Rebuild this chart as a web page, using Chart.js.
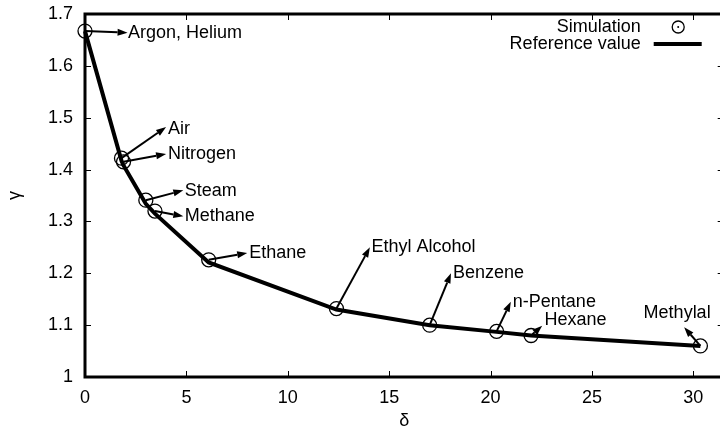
<!DOCTYPE html>
<html>
<head>
<meta charset="utf-8">
<script src="https://cdn.jsdelivr.net/npm/chart.js@4.4.1/dist/chart.umd.min.js"></script>
<style>
  html, body { margin: 0; padding: 0; overflow: hidden; background: #fff; }
  #wrap { width: 732px; height: 435px; }
</style>
</head>
<body>
<div id="wrap"><canvas id="gammaChart" width="732" height="435"></canvas></div>
<script>

const gasNames    = ['Argon, Helium', 'Air', 'Nitrogen', 'Steam', 'Methane', 'Ethane', 'Ethyl Alcohol', 'Benzene', 'n-Pentane', 'Hexane', 'Methylal'];
const deltaValues = [0, 1.8, 1.9, 3.0, 3.45, 6.1, 12.4, 17.0, 20.3, 22.0, 30.35];
const simGamma    = [1.667, 1.422, 1.415, 1.341, 1.32, 1.226, 1.132, 1.1, 1.088, 1.08, 1.06];
const refGamma    = [1.667, 1.417, 1.408, 1.334, 1.315, 1.221, 1.13, 1.1, 1.087, 1.08, 1.06];

// where each arrow ends and where its label sits (data coords)
const arrowTipX = [2.1, 4.0, 4.0, 4.85, 4.85, 8.0, 14.05, 18.05, 21.0, 22.55, 29.55];
const arrowTipY = [1.664, 1.482, 1.43, 1.36, 1.31, 1.239, 1.25, 1.2, 1.145, 1.099, 1.096];
const labelX    = [2.12, 4.09, 4.09, 4.92, 4.92, 8.1, 14.13, 18.15, 21.1, 22.66, 27.55];
const labelY    = [1.663, 1.478, 1.43, 1.358, 1.31, 1.2395, 1.251, 1.2, 1.144, 1.109, 1.123];

const xTickValues = [0, 5, 10, 15, 20, 25, 30];
const xTickLabels = ['0', '5', '10', '15', '20', '25', '30'];
const yTickValues = [1, 1.1, 1.2, 1.3, 1.4, 1.5, 1.6, 1.7];
const yTickLabels = ['1', '1.1', '1.2', '1.3', '1.4', '1.5', '1.6', '1.7'];

const fontFamily = "'Liberation Sans', Arial, Helvetica, sans-serif";

function drawArrow( ctx, x1, y1, x2, y2 ) {
    const ang = Math.atan2( y2 - y1, x2 - x1 );
    const headLen = 10, headHalf = 3.5;
    const bx = x2 - headLen * Math.cos( ang );
    const by = y2 - headLen * Math.sin( ang );

    ctx.beginPath();
    ctx.moveTo( x1, y1 );
    ctx.lineTo( bx, by );
    ctx.stroke();

    ctx.beginPath();
    ctx.moveTo( x2, y2 );
    ctx.lineTo( bx + headHalf * Math.sin( ang ), by - headHalf * Math.cos( ang ) );
    ctx.lineTo( bx - headHalf * Math.sin( ang ), by + headHalf * Math.cos( ang ) );
    ctx.closePath();
    ctx.fill();
}

const gnuplotLook = {
    id: 'gnuplotLook',

    afterDatasetsDraw( chart ) {
        const ctx = chart.ctx;
        const xs = chart.scales.x, ys = chart.scales.y;

        ctx.save();
        ctx.strokeStyle = '#000';
        ctx.fillStyle = '#000';
        ctx.lineWidth = 2;

        for ( let i = 0; i < gasNames.length; i++ ) {
            drawArrow( ctx,
                xs.getPixelForValue( deltaValues[i] ), ys.getPixelForValue( simGamma[i] ),
                xs.getPixelForValue( arrowTipX[i] ), ys.getPixelForValue( arrowTipY[i] ) );
        }

        ctx.font = '18px ' + fontFamily;
        ctx.textAlign = 'left';
        ctx.textBaseline = 'middle';
        for ( let i = 0; i < gasNames.length; i++ ) {
            ctx.fillText( gasNames[i], xs.getPixelForValue( labelX[i] ), ys.getPixelForValue( labelY[i] ) );
        }
        ctx.restore();
    },

    afterDraw( chart ) {
        const ctx = chart.ctx;
        const a = chart.chartArea;
        const xs = chart.scales.x, ys = chart.scales.y;
        const tick = 6;

        ctx.save();
        ctx.strokeStyle = '#000';

        // inward ticks on all four sides
        ctx.lineWidth = 1;
        ctx.beginPath();
        xTickValues.forEach( v => {
            const px = Math.round( xs.getPixelForValue( v ) ) + 0.5;
            ctx.moveTo( px, a.bottom ); ctx.lineTo( px, a.bottom - tick );
            ctx.moveTo( px, a.top );    ctx.lineTo( px, a.top + tick );
        });
        yTickValues.forEach( v => {
            const py = Math.round( ys.getPixelForValue( v ) ) + 0.5;
            ctx.moveTo( a.left, py );  ctx.lineTo( a.left + tick, py );
            ctx.moveTo( a.right, py ); ctx.lineTo( a.right - tick, py );
        });
        ctx.stroke();

        // frame
        ctx.lineWidth = 3;
        ctx.strokeRect( a.left, a.top, a.right - a.left, a.bottom - a.top );

        // key, top right
        const sim = chart.data.datasets[1], ref = chart.data.datasets[0];
        const textRight = a.right - 83;
        ctx.font = '18px ' + fontFamily;
        ctx.fillStyle = '#000';
        ctx.textAlign = 'right';
        ctx.textBaseline = 'middle';
        ctx.fillText( sim.label, textRight, a.top + 13 );
        ctx.fillText( ref.label, textRight, a.top + 30 );

        ctx.lineWidth = 1.3;
        ctx.beginPath();
        ctx.arc( a.right - 45.5, a.top + 13, 6, 0, Math.PI * 2 );
        ctx.stroke();
        ctx.beginPath();
        ctx.arc( a.right - 45.5, a.top + 13, 1, 0, Math.PI * 2 );
        ctx.fill();

        ctx.lineWidth = 4;
        ctx.beginPath();
        ctx.moveTo( a.right - 70, a.top + 30 );
        ctx.lineTo( a.right - 22, a.top + 30 );
        ctx.stroke();

        ctx.restore();
    }
};

new Chart( document.getElementById('gammaChart'), {
    type: 'scatter',
    data: {
        datasets: [
            {
                label: 'Reference value',
                data: deltaValues.map( ( d, i ) => ({ x: d, y: refGamma[i] }) ),
                showLine: true,
                borderColor: '#000',
                borderWidth: 4,
                pointRadius: 0,
                tension: 0,
                clip: false
            },
            {
                label: 'Simulation',
                data: deltaValues.map( ( d, i ) => ({ x: d, y: simGamma[i] }) ),
                showLine: false,
                pointStyle: 'circle',
                pointRadius: 7,
                borderColor: '#000',
                borderWidth: 1.3,
                backgroundColor: 'rgba(0,0,0,0)',
                clip: false
            }
        ]
    },
    options: {
        responsive: false,
        animation: false,
        layout: { padding: { top: 14, right: 0, left: 0, bottom: 0 } },
        plugins: {
            legend: { display: false },
            tooltip: { enabled: false }
        },
        scales: {
            x: {
                type: 'linear',
                min: 0,
                max: 31.5,
                afterBuildTicks: scale => { scale.ticks = xTickValues.map( v => ({ value: v }) ); },
                afterFit: scale => {
                    scale.height = 58;
                    scale.paddingLeft = 0;
                    scale.paddingRight = 0;
                },
                ticks: {
                    color: '#000',
                    font: { family: fontFamily, size: 18 },
                    padding: 10,
                    maxRotation: 0,
                    callback: ( v, i ) => xTickLabels[i]
                },
                grid: { display: false, drawTicks: false },
                border: { display: false },
                title: { display: true, text: 'δ', color: '#000', font: { family: fontFamily, size: 18 }, padding: { top: 0, bottom: 3 } }
            },
            y: {
                type: 'linear',
                min: 1,
                max: 1.7,
                afterBuildTicks: scale => { scale.ticks = yTickValues.map( v => ({ value: v }) ); },
                afterFit: scale => {
                    scale.width = 85;
                    scale.paddingTop = 0;
                    scale.paddingBottom = 0;
                },
                ticks: {
                    color: '#000',
                    font: { family: fontFamily, size: 18 },
                    padding: 12,
                    callback: ( v, i ) => yTickLabels[i]
                },
                grid: { display: false, drawTicks: false },
                border: { display: false },
                title: { display: true, text: 'γ', color: '#000', font: { family: fontFamily, size: 18 }, padding: { top: 4, bottom: 4 } }
            }
        }
    },
    plugins: [ gnuplotLook ]
});

</script>
</body>
</html>
